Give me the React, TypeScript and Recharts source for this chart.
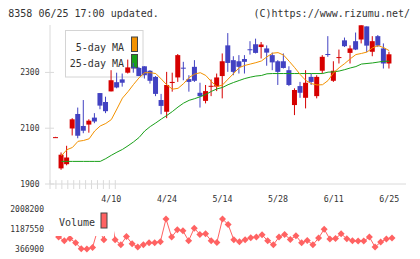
import { ComposedChart, Bar, Line, XAxis, YAxis, ReferenceLine } from 'recharts';

// Trading days, one entry per candle
const dates = [
  '3/27', '3/30', '3/31', '4/1', '4/2', '4/3', '4/6', '4/7', '4/8', '4/9',
  '4/10', '4/13', '4/14', '4/15', '4/16', '4/17', '4/20', '4/21', '4/22', '4/23',
  '4/24', '4/27', '4/28', '4/30', '5/1', '5/7', '5/8', '5/11', '5/12', '5/13',
  '5/14', '5/15', '5/18', '5/19', '5/20', '5/21', '5/22', '5/25', '5/26', '5/27',
  '5/28', '5/29', '6/1', '6/2', '6/3', '6/4', '6/5', '6/8', '6/9', '6/10',
  '6/11', '6/12', '6/15', '6/16', '6/17', '6/18', '6/19', '6/22', '6/23', '6/24',
  '6/25',
];

const opens = [
  2068, 1956, 1971, 2099, 2151, 2108, 2113, 2138, 2226, 2194,
  2232, 2265, 2275, 2299, 2320, 2316, 2322, 2306, 2284, 2201,
  2159, 2262, 2282, 2317, 2276, 2320, 2227, 2198, 2250, 2249,
  2287, 2397, 2344, 2340, 2348, 2383, 2401, 2391, 2386, 2362,
  2340, 2340, 2308, 2183, 2251, 2209, 2284, 2215, 2306, 2366,
  2270, 2353, 2415, 2370, 2412, 2418, 2465, 2374, 2430, 2386,
  2332,
];
const closes = [
  2068, 2005, 1995, 2132, 2073, 2091, 2127, 2124, 2181, 2161,
  2272, 2246, 2263, 2318, 2318, 2287, 2290, 2270, 2223, 2180,
  2255, 2266, 2362, 2314, 2266, 2270, 2215, 2233, 2252, 2282,
  2340, 2334, 2302, 2320, 2338, 2381, 2370, 2400, 2371, 2336,
  2302, 2316, 2255, 2237, 2227, 2263, 2266, 2284, 2356, 2364,
  2306, 2355, 2394, 2386, 2382, 2469, 2396, 2412, 2396, 2332,
  2365,
];
const highs = [
  2069, 2013, 2037, 2136, 2174, 2201, 2132, 2154, 2226, 2213,
  2308, 2299, 2296, 2346, 2334, 2320, 2322, 2308, 2287, 2223,
  2302, 2299, 2366, 2338, 2290, 2344, 2263, 2255, 2275, 2296,
  2368, 2441, 2358, 2362, 2362, 2412, 2421, 2409, 2397, 2371,
  2344, 2368, 2322, 2243, 2266, 2308, 2296, 2290, 2362, 2430,
  2340, 2382, 2425, 2397, 2443, 2469, 2465, 2430, 2434, 2404,
  2374,
];
const lows = [
  2067, 1951, 1967, 2074, 2064, 2082, 2084, 2118, 2168, 2154,
  2232, 2243, 2249, 2296, 2299, 2287, 2278, 2260, 2215, 2150,
  2136, 2231, 2266, 2272, 2231, 2266, 2174, 2189, 2215, 2233,
  2207, 2302, 2290, 2296, 2296, 2364, 2368, 2350, 2324, 2308,
  2255, 2314, 2251, 2147, 2209, 2171, 2255, 2207, 2296, 2356,
  2266, 2332, 2391, 2332, 2380, 2404, 2373, 2358, 2391, 2314,
  2314,
];

const ma5 = [
  null, 2001, 2023, 2031, 2053, 2056, 2062, 2090, 2108, 2117,
  2131, 2169, 2208, 2231, 2257, 2281, 2299, 2299, 2296, 2276,
  2255, 2240, 2243, 2260, 2282, 2294, 2299, 2289, 2267, 2249,
  2255, 2276, 2296, 2317, 2325, 2330, 2335, 2341, 2356, 2369,
  2371, 2362, 2340, 2317, 2292, 2271, 2260, 2255, 2256, 2271,
  2299, 2317, 2332, 2349, 2364, 2368, 2373, 2388, 2396, 2389,
  2378,
];
const ma25 = [
  null, 1981, 1981, 1981, 1981, 1981, 1981, 1981, 1981, 1991,
  2003, 2014, 2024, 2037, 2051, 2067, 2090, 2106, 2119, 2133,
  2146, 2160, 2176, 2190, 2200, 2206, 2213, 2221, 2232, 2241,
  2246, 2256, 2264, 2271, 2278, 2283, 2287, 2289, 2295, 2296,
  2296, 2296, 2296, 2296, 2296, 2296, 2296, 2296, 2296, 2301,
  2302, 2305, 2310, 2316, 2321, 2330, 2332, 2334, 2337, 2340,
  2340,
];

const volumes = [
  1112000, 856000, 705000, 798000, 624000, 379000, 366900, 432000, 1230000, 746000,
  2008200, 746000, 542000, 880000, 583000, 448000, 542000, 624000, 624000, 664000,
  1601000, 856000, 1153000, 1112000, 705000, 1222000, 962000, 990000, 705000, 636000,
  1601000, 1369000, 746000, 664000, 746000, 827000, 856000, 949000, 705000, 542000,
  856000, 962000, 758000, 909000, 624000, 717000, 542000, 815000, 1181000, 774000,
  798000, 990000, 786000, 705000, 693000, 693000, 856000, 448000, 652000, 774000,
  815000,
];

const labelDates = ['4/10', '4/24', '5/14', '5/28', '6/11', '6/25'];
const priceTicks = [1900, 2100, 2300];
const volumeTicks = [366900, 1187550, 2008200];
// evenly spaced marks along the bottom axis
const frameTicks = [0, 1, 2, 3, 4, 5, 6, 7, 8, 9, 10, 11];

const UP = '#d60000';
const DOWN = '#4242c2';
const MA5_COLOR = '#f39200';
const MA25_COLOR = '#19a019';
const VOL_COLOR = '#ff6262';
const AXIS = '#dadada';
const TEXT = '#333';
const MONO = '"DejaVu Sans Mono", monospace';

const PRICE_MIN = 1900;
const PRICE_MAX = 2470;

const rows = dates.map((date, i) => ({
  date,
  open: opens[i],
  close: closes[i],
  high: highs[i],
  low: lows[i],
  ma5: ma5[i],
  ma25: ma25[i],
  volume: volumes[i],
}));

const X_PADDING = { left: 3, right: 14 };

// body + wick drawn inside the [low, high] bar rectangle
function Candle(props: any) {
  const { x, y, width, height, payload } = props;
  if (payload == null || height == null) return null;
  const { open, close, high, low } = payload;
  const range = high - low || 1;
  const toY = (v: number) => y + ((high - v) / range) * height;
  const color = close >= open ? UP : DOWN;
  const top = toY(Math.max(open, close));
  const bottom = toY(Math.min(open, close));
  const cx = x + width / 2;
  return (
    <g>
      <line x1={cx} x2={cx} y1={y} y2={y + height} stroke={color} strokeWidth={1} />
      <rect x={x} y={top} width={width} height={Math.max(bottom - top, 1)} fill={color} />
    </g>
  );
}

function PriceTick({ x, y, payload }: any) {
  return (
    <g>
      <line x1={x - 5} x2={x + 4} y1={y} y2={y} stroke={AXIS} />
      <text x={x - 10.5} y={y + 3} textAnchor="end" fontSize={8} fontFamily={MONO} fill={TEXT}>
        {payload.value}
      </text>
    </g>
  );
}

function DateTick({ x, y, payload }: any) {
  return (
    <text x={x} y={y + 17.5} textAnchor="middle" fontSize={8.3} fontFamily={MONO} fill={TEXT}>
      {payload.value}
    </text>
  );
}

function VolumeTick({ x, y, payload }: any) {
  return (
    <text x={x - 6} y={y + 3} textAnchor="end" fontSize={8} fontFamily={MONO} fill={TEXT}>
      {payload.value}
    </text>
  );
}

function Diamond({ cx, cy, index }: any) {
  if (cx == null || cy == null) return null;
  const r = 3.5;
  return (
    <path
      key={index}
      d={`M${cx} ${cy - r}L${cx + r} ${cy}L${cx} ${cy + r}L${cx - r} ${cy}Z`}
      fill={VOL_COLOR}
    />
  );
}

function Swatch({ x, y, h, color }: { x: number; y: number; h: number; color: string }) {
  return <rect x={x + 0.5} y={y + 0.5} width={6} height={h} fill={color} stroke="#444" strokeWidth={1} />;
}

export default function App() {
  return (
    <div style={{ position: 'relative', width: 420, height: 259, background: '#fff', overflow: 'hidden' }}>
      <style>{'body{margin:0}'}</style>

      <svg width={420} height={22} style={{ position: 'absolute', left: 0, top: 0 }}>
        <text x={8.3} y={16.7} fontSize={10} fontFamily={MONO} fill={TEXT}>
          8358 06/25 17:00 updated.
        </text>
        <text x={410} y={16.7} textAnchor="end" fontSize={10} fontFamily={MONO} fill={TEXT}>
          (C)https://www.rizumu.net/
        </text>
      </svg>

      {/* MA legend sits under the candles */}
      <svg width={80} height={49} style={{ position: 'absolute', left: 65, top: 30 }}>
        <rect x={0.5} y={0.5} width={77.5} height={46.5} fill="#fff" stroke="#d4d4d4" />
        <text x={59} y={20.5} textAnchor="end" fontSize={10} fontFamily={MONO} fill={TEXT}>
          5-day MA
        </text>
        <text x={59} y={37} textAnchor="end" fontSize={10} fontFamily={MONO} fill={TEXT}>
          25-day MA
        </text>
        <Swatch x={66} y={6.5} h={14.5} color={MA5_COLOR} />
        <Swatch x={66} y={24} h={13.5} color={MA25_COLOR} />
      </svg>

      <div style={{ position: 'absolute', left: 0, top: 0 }}>
        <ComposedChart width={420} height={205} data={rows} margin={{ top: 25, right: 14, bottom: 0, left: 0 }}>
          <XAxis
            dataKey="date"
            height={21}
            padding={X_PADDING}
            ticks={labelDates}
            interval={0}
            axisLine={{ stroke: AXIS }}
            tickLine={false}
            tickSize={0}
            tickMargin={0}
            tick={DateTick}
          />
          <XAxis xAxisId="frame" type="number" domain={[0, 11]} allowDataOverflow hide />
          <YAxis
            width={50}
            domain={[PRICE_MIN, PRICE_MAX]}
            allowDataOverflow
            ticks={priceTicks}
            interval={0}
            axisLine={{ stroke: AXIS }}
            tickLine={false}
            tickSize={0}
            tickMargin={0}
            tick={PriceTick}
          />
          {frameTicks.map((t) => (
            <ReferenceLine
              key={t}
              xAxisId="frame"
              segment={[
                { x: t, y: PRICE_MIN + 14 },
                { x: t, y: PRICE_MIN - 18 },
              ]}
              ifOverflow="visible"
              stroke={AXIS}
            />
          ))}
          <Line dataKey="ma25" stroke={MA25_COLOR} strokeWidth={1} dot={false} isAnimationActive={false} />
          <Line dataKey="ma5" stroke={MA5_COLOR} strokeWidth={1} dot={false} isAnimationActive={false} />
          <Bar
            dataKey={(d: any) => [d.low, d.high]}
            barSize={5}
            shape={(p: any) => <Candle {...p} />}
            isAnimationActive={false}
          />
        </ComposedChart>
      </div>

      <div style={{ position: 'absolute', left: 0, top: 200 }}>
        <ComposedChart width={420} height={59} data={rows} margin={{ top: 9, right: 14, bottom: 10, left: 0 }}>
          <XAxis dataKey="date" hide height={0} padding={X_PADDING} />
          <YAxis
            width={50}
            domain={[366900, 2008200]}
            ticks={volumeTicks}
            interval={0}
            axisLine={false}
            tickLine={false}
            tickSize={0}
            tickMargin={0}
            tick={VolumeTick}
          />
          <Line
            dataKey="volume"
            stroke={VOL_COLOR}
            strokeWidth={1}
            dot={(p: any) => <Diamond {...p} key={p.index} />}
            activeDot={false}
            isAnimationActive={false}
          />
        </ComposedChart>
      </div>

      {/* volume legend covers the line behind it */}
      <svg width={64} height={31} style={{ position: 'absolute', left: 50, top: 205 }}>
        <rect x={0} y={0} width={64} height={31} fill="#fff" />
        <text x={9} y={21} fontSize={10} fontFamily={MONO} fill={TEXT}>
          Volume
        </text>
        <Swatch x={50.5} y={7.5} h={15} color={VOL_COLOR} />
      </svg>
    </div>
  );
}
